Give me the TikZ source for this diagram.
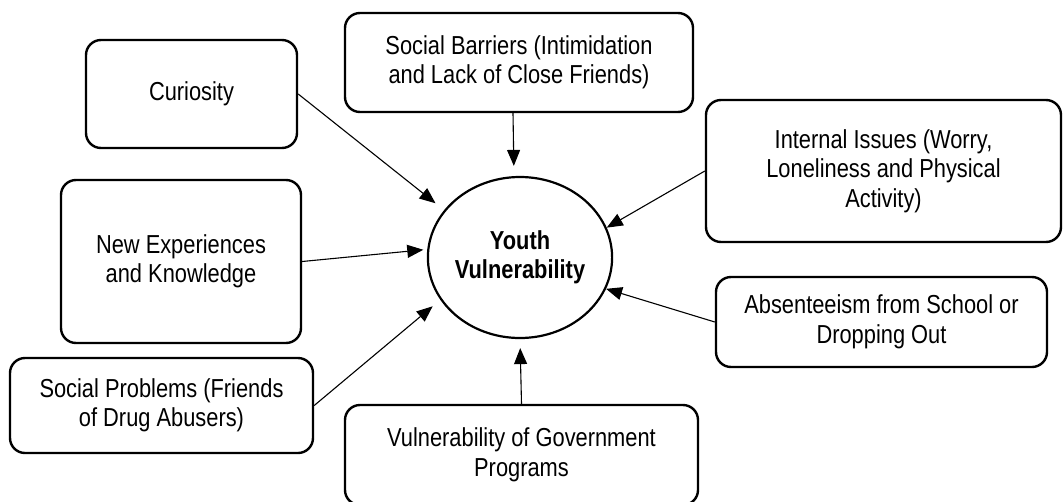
\documentclass[tikz,border=0pt]{standalone}
\usepackage{fontspec}
\setmainfont{Liberation Sans}[FakeStretch=0.84]
\usetikzlibrary{arrows.meta,shapes.geometric}
\begin{document}
\begin{tikzpicture}[x=1pt,y=-1pt,
  box/.style={draw,line width=2.4pt,rounded corners=15pt,inner sep=0pt,align=center,
    font=\fontsize{26}{29.5}\selectfont},
  arr/.style={line width=1.1pt,-{Triangle[length=16pt,width=13pt]}}]
\useasboundingbox (0,0) rectangle (1063,501);
\node[box,minimum width=211pt,minimum height=108pt] (cur) at (191.5,94) {Curiosity};
\node[box,minimum width=348pt,minimum height=99pt] (bar) at (519,62.5) {Social Barriers (Intimidation\\and Lack of Close Friends)};
\node[box,minimum width=355pt,minimum height=142pt] (int) at (883.5,171) {Internal Issues (Worry,\\Loneliness and Physical\\Activity)};
\node[box,minimum width=240pt,minimum height=163pt] (nex) at (181,261.5) {New Experiences\\and Knowledge};
\node[box,minimum width=331pt,minimum height=90pt] (abs) at (881.5,322) {Absenteeism from School or\\Dropping Out};
\node[box,minimum width=303pt,minimum height=95pt] (spr) at (161.5,405.5) {Social Problems (Friends\\of Drug Abusers)};
\node[box,minimum width=353pt,minimum height=100pt] (gov) at (521.5,455) {Vulnerability of Government\\Programs};
\node[ellipse,draw,line width=2.2pt,minimum width=182pt,minimum height=161pt,inner sep=0pt,align=center,
  font=\fontsize{26}{29.5}\selectfont\bfseries] (yv) at (520,257.5) {Youth\\Vulnerability};
\draw[arr,shorten >=11pt] (cur.east) -- (yv.148);
\draw[arr,shorten >=10pt] ([xshift=-6pt]bar.south) -- ([xshift=-6pt]yv.north);
\draw[arr] (int.west) -- (yv.19);
\draw[arr,shorten >=4pt] (nex.east) -- (yv.175.5);
\draw[arr] (abs.west) -- (yv.340);
\draw[arr,shorten >=10pt] (spr.east) -- (yv.208.6);
\draw[arr,shorten >=9pt] (gov.north) -- (yv.south);
\end{tikzpicture}
\end{document}
